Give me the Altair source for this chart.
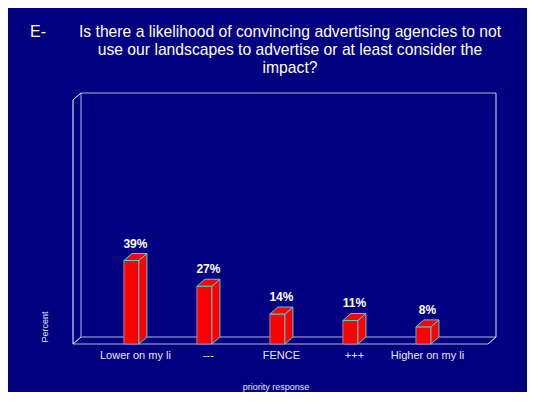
import altair as alt
import pandas as pd

# ---- data ----
categories = ["Lower on my li", "---", "FENCE", "+++", "Higher on my li"]
values = [39, 27, 14, 11, 8]
title_prefix = "E-"
title_lines = [
    "Is there a likelihood of convincing advertising agencies to not",
    "use our landscapes to advertise or at least consider the",
    "impact?",
]
x_title = "priority response"
y_title = "Percent"

# ---- geometry / scales ----
W, H = 415, 244
X_MIN, X_MAX = -0.80, 4.884
Y_MAX = 114
ppx = W / (X_MAX - X_MIN)
ppy = H / Y_MAX
HALF = 7.5 / ppx      # half width of the bar front face
DX = 8 / ppx          # 3D depth (horizontal)
DY = 7 / ppy          # 3D depth (vertical)

NAVY = "#000080"
RED = "#FF0000"
EDGE = "#40D8E0"
FRONT_EDGE = "#9090A8"
BACK = "#B4B4DC"
FONT = "Liberation Sans"

xs = alt.Scale(domain=[X_MIN, X_MAX], nice=False, zero=False)
ys = alt.Scale(domain=[0, Y_MAX], nice=False, zero=False)

front = pd.DataFrame({"cat": categories, "idx": list(range(len(values))), "value": values})
front["x0"] = front["idx"] - HALF
front["x1"] = front["idx"] + HALF
front["label"] = [f"{v}%" for v in values]
front["lx"] = front["idx"] + DX / 2
front["ly"] = front["value"] + DY

side_rows, top_rows = [], []
for c, i, v in zip(categories, range(len(values)), values):
    x0, x1 = i - HALF, i + HALF
    side_rows.append({"cat": c, "x": x1, "y": v, "y2": 0})
    side_rows.append({"cat": c, "x": x1 + DX, "y": v + DY, "y2": DY})
    top_rows.append({"cat": c, "x": x0, "y": v, "y2": v})
    top_rows.append({"cat": c, "x": x0 + DX, "y": v + DY, "y2": v})
    top_rows.append({"cat": c, "x": x1, "y": v + DY, "y2": v})
    top_rows.append({"cat": c, "x": x1 + DX, "y": v + DY, "y2": v + DY})
side = pd.DataFrame(side_rows)
top = pd.DataFrame(top_rows)

one = pd.DataFrame({"k": [0]})


def seg(x, y, x2, y2, color):
    return alt.Chart(one).mark_rule(color=color, strokeWidth=1).encode(
        x=alt.value(x), y=alt.value(y), x2=alt.value(x2), y2=alt.value(y2)
    )


frame = [
    seg(8, -7, 8 + W, -7, BACK),
    seg(8 + W, -7, 8 + W, H - 7, "#E0E0F0"),
    seg(8, -7, 8, H - 7, BACK),
    seg(8, H - 7, 8 + W, H - 7, BACK),
    seg(0, H, W, H, BACK),
    seg(0, 0, 0, H, "#FFFFFF"),
    seg(0, 0, 8, -7, "#FFFFFF"),
    seg(0, H, 8, H - 7, "#FFFFFF"),
    seg(W, H, W + 8, H - 7, "#FFFFFF"),
]

front_face = alt.Chart(front).mark_rect(fill=RED, stroke=FRONT_EDGE, strokeWidth=1).encode(
    x=alt.X("x0:Q", scale=xs, axis=None),
    x2="x1:Q",
    y=alt.Y("value:Q", scale=ys, axis=None),
    y2=alt.datum(0),
)

side_face = alt.Chart(side).mark_area(fill=RED, stroke=EDGE, strokeWidth=1, orient="vertical").encode(
    x=alt.X("x:Q", scale=xs, axis=None),
    y=alt.Y("y:Q", scale=ys, axis=None),
    y2="y2:Q",
    detail="cat:N",
)

top_face = alt.Chart(top).mark_area(fill=RED, stroke=EDGE, strokeWidth=1, orient="vertical").encode(
    x=alt.X("x:Q", scale=xs, axis=None),
    y=alt.Y("y:Q", scale=ys, axis=None),
    y2="y2:Q",
    detail="cat:N",
)

value_labels = alt.Chart(front).mark_text(
    color="white", fontWeight="bold", fontSize=12, font=FONT, baseline="alphabetic", dy=-6
).encode(
    x=alt.X("lx:Q", scale=xs, axis=None),
    y=alt.Y("ly:Q", scale=ys, axis=None),
    text="label:N",
)

cat_labels = alt.Chart(front).mark_text(
    color="#E8E8F0", fontSize=11, font=FONT, baseline="alphabetic"
).encode(
    x=alt.X("lx:Q", scale=xs, axis=None),
    y=alt.value(H + 15),
    text="cat:N",
)

x_title_mark = alt.Chart(pd.DataFrame({"t": [x_title]})).mark_text(
    color="#E8E8F0", fontSize=9, font=FONT, baseline="alphabetic"
).encode(x=alt.value(203), y=alt.value(H + 46), text="t:N")

y_title_mark = alt.Chart(pd.DataFrame({"t": [y_title]})).mark_text(
    color="#E8E8F0", fontSize=9, font=FONT, baseline="middle", angle=270
).encode(x=alt.value(-28), y=alt.value(H - 17), text="t:N")

title_marks = [
    alt.Chart(pd.DataFrame({"t": [title_prefix]})).mark_text(
        color="white", fontSize=16, font=FONT, align="left", baseline="alphabetic"
    ).encode(x=alt.value(-43), y=alt.value(-63), text="t:N")
]
for k, line in enumerate(title_lines):
    title_marks.append(
        alt.Chart(pd.DataFrame({"t": [line]})).mark_text(
            color="white", fontSize=15.7, font=FONT, align="center", baseline="alphabetic"
        ).encode(x=alt.value(217), y=alt.value(-63 + 18 * k), text="t:N")
    )

chart = alt.layer(
    *frame, front_face, side_face, top_face, value_labels, cat_labels,
    x_title_mark, y_title_mark, *title_marks
).properties(
    width=W, height=H,
    background=NAVY,
    padding={"left": 65, "top": 92, "right": 39, "bottom": 48},
    autosize=alt.AutoSizeParams(type="none"),
).configure_view(strokeWidth=0)

chart.save("out.html", embed_options={"renderer": "svg", "actions": False})
